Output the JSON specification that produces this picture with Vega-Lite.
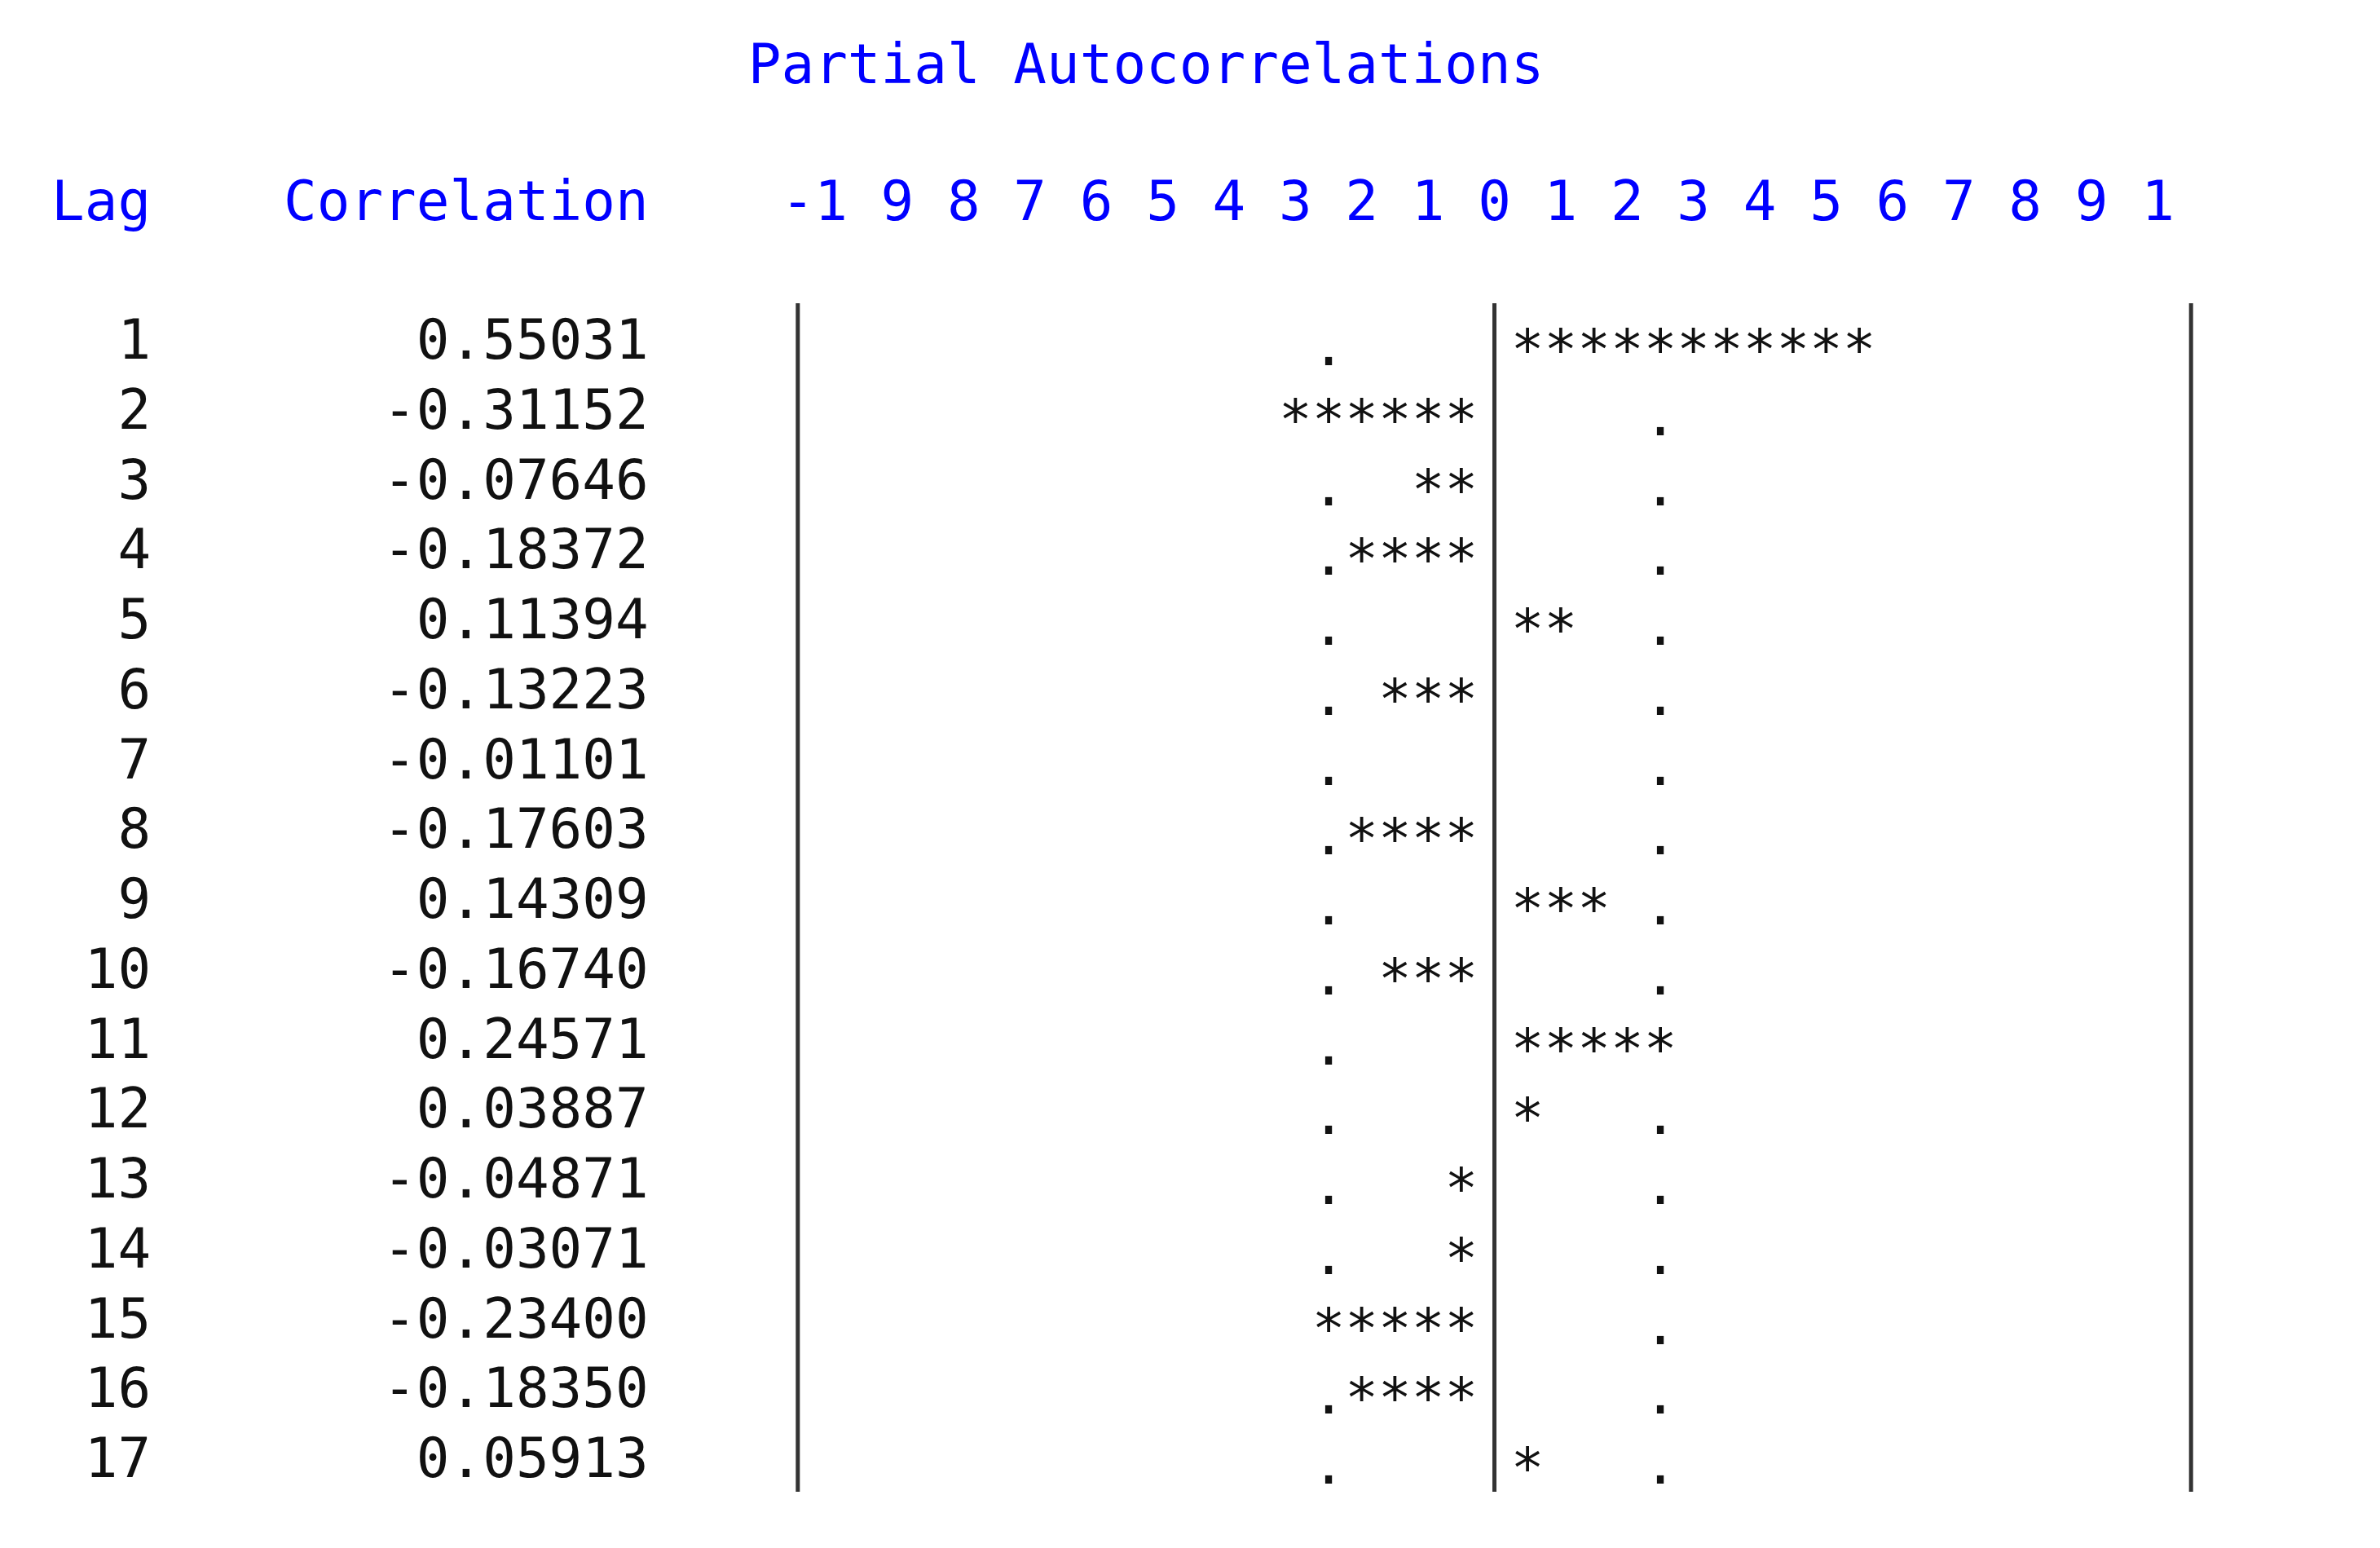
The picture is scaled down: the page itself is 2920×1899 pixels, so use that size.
{
  "$schema": "https://vega.github.io/schema/vega-lite/v6.json",
  "width": 2920,
  "height": 1899,
  "autosize": {"type": "none"},
  "padding": 0,
  "background": "white",
  "config": {
    "view": {"stroke": null},
    "locale": {"number": {"decimal": ".", "thousands": ",", "grouping": [3], "currency": ["$", ""], "minus": "-"}},
    "text": {"font": "DejaVu Sans Mono", "fontSize": 67.6, "color": "#111111"}
  },
  "datasets": {
    "pacf": [
      {"lag": 1, "corr": 0.55031, "stars": "***********"},
      {"lag": 2, "corr": -0.31152, "stars": "******"},
      {"lag": 3, "corr": -0.07646, "stars": "**"},
      {"lag": 4, "corr": -0.18372, "stars": "****"},
      {"lag": 5, "corr": 0.11394, "stars": "**"},
      {"lag": 6, "corr": -0.13223, "stars": "***"},
      {"lag": 7, "corr": -0.01101, "stars": ""},
      {"lag": 8, "corr": -0.17603, "stars": "****"},
      {"lag": 9, "corr": 0.14309, "stars": "***"},
      {"lag": 10, "corr": -0.16740, "stars": "***"},
      {"lag": 11, "corr": 0.24571, "stars": "*****"},
      {"lag": 12, "corr": 0.03887, "stars": "*"},
      {"lag": 13, "corr": -0.04871, "stars": "*"},
      {"lag": 14, "corr": -0.03071, "stars": "*"},
      {"lag": 15, "corr": -0.23400, "stars": "*****"},
      {"lag": 16, "corr": -0.18350, "stars": "****"},
      {"lag": 17, "corr": 0.05913, "stars": "*"}
    ],
    "limits": [
      {"lag": 1, "limit": -0.25},
      {"lag": 2, "limit": 0.25},
      {"lag": 3, "limit": -0.25}, {"lag": 3, "limit": 0.25},
      {"lag": 4, "limit": -0.25}, {"lag": 4, "limit": 0.25},
      {"lag": 5, "limit": -0.25}, {"lag": 5, "limit": 0.25},
      {"lag": 6, "limit": -0.25}, {"lag": 6, "limit": 0.25},
      {"lag": 7, "limit": -0.25}, {"lag": 7, "limit": 0.25},
      {"lag": 8, "limit": -0.25}, {"lag": 8, "limit": 0.25},
      {"lag": 9, "limit": -0.25}, {"lag": 9, "limit": 0.25},
      {"lag": 10, "limit": -0.25}, {"lag": 10, "limit": 0.25},
      {"lag": 11, "limit": -0.25},
      {"lag": 12, "limit": -0.25}, {"lag": 12, "limit": 0.25},
      {"lag": 13, "limit": -0.25}, {"lag": 13, "limit": 0.25},
      {"lag": 14, "limit": -0.25}, {"lag": 14, "limit": 0.25},
      {"lag": 15, "limit": 0.25},
      {"lag": 16, "limit": -0.25}, {"lag": 16, "limit": 0.25},
      {"lag": 17, "limit": -0.25}, {"lag": 17, "limit": 0.25}
    ],
    "scaleLabels": [
      {"v": -1.0, "label": "-1"}, {"v": -0.9, "label": "9"}, {"v": -0.8, "label": "8"},
      {"v": -0.7, "label": "7"}, {"v": -0.6, "label": "6"}, {"v": -0.5, "label": "5"},
      {"v": -0.4, "label": "4"}, {"v": -0.3, "label": "3"}, {"v": -0.2, "label": "2"},
      {"v": -0.1, "label": "1"}, {"v": 0.0, "label": "0"}, {"v": 0.1, "label": "1"},
      {"v": 0.2, "label": "2"}, {"v": 0.3, "label": "3"}, {"v": 0.4, "label": "4"},
      {"v": 0.5, "label": "5"}, {"v": 0.6, "label": "6"}, {"v": 0.7, "label": "7"},
      {"v": 0.8, "label": "8"}, {"v": 0.9, "label": "9"}, {"v": 1.0, "label": "1"}
    ]
  },
  "layer": [
    {
      "data": {"values": [{"t": "Partial Autocorrelations"}]},
      "mark": {"type": "text", "align": "left", "baseline": "middle", "dy": 4, "color": "#0000ff"},
      "encoding": {
        "x": {"datum": -1.125, "type": "quantitative", "scale": {"domain": [-2.2525, 1.3348]}, "axis": null},
        "y": {"datum": -3, "type": "quantitative", "scale": {"domain": [-3.9096, 18.236], "reverse": true}, "axis": null},
        "text": {"field": "t"}
      }
    },
    {
      "data": {"values": [{"h": "Lag"}]},
      "mark": {"type": "text", "align": "right", "baseline": "middle", "dy": 0, "color": "#0000ff"},
      "encoding": {
        "x": {"datum": -2.025, "type": "quantitative", "scale": {"domain": [-2.2525, 1.3348]}, "axis": null},
        "y": {"datum": -1, "type": "quantitative", "scale": {"domain": [-3.9096, 18.236], "reverse": true}, "axis": null},
        "text": {"field": "h"}
      }
    },
    {
      "data": {"values": [{"h": "Correlation"}]},
      "mark": {"type": "text", "align": "right", "baseline": "middle", "dy": 0, "color": "#0000ff"},
      "encoding": {
        "x": {"datum": -1.275, "type": "quantitative", "scale": {"domain": [-2.2525, 1.3348]}, "axis": null},
        "y": {"datum": -1, "type": "quantitative", "scale": {"domain": [-3.9096, 18.236], "reverse": true}, "axis": null},
        "text": {"field": "h"}
      }
    },
    {
      "data": {"name": "scaleLabels"},
      "mark": {"type": "text", "align": "right", "baseline": "middle", "dy": 0, "dx": 20.35, "color": "#0000ff"},
      "encoding": {
        "x": {"field": "v", "type": "quantitative", "scale": {"domain": [-2.2525, 1.3348]}, "axis": null},
        "y": {"datum": -1, "type": "quantitative", "scale": {"domain": [-3.9096, 18.236], "reverse": true}, "axis": null},
        "text": {"field": "label"}
      }
    },
    {
      "data": {"values": [{"edge": "left"}]},
      "mark": {"type": "rule", "strokeWidth": 5, "color": "#333333"},
      "encoding": {
        "x": {"datum": -1.05, "type": "quantitative", "scale": {"domain": [-2.2525, 1.3348]}, "axis": null},
        "y": {"datum": 0.43, "type": "quantitative", "scale": {"domain": [-3.9096, 18.236], "reverse": true}, "axis": null},
        "y2": {"datum": 17.43}
      }
    },
    {
      "data": {"values": [{"edge": "zero"}]},
      "mark": {"type": "rule", "strokeWidth": 5, "color": "#333333"},
      "encoding": {
        "x": {"datum": 0, "type": "quantitative", "scale": {"domain": [-2.2525, 1.3348]}, "axis": null},
        "y": {"datum": 0.43, "type": "quantitative", "scale": {"domain": [-3.9096, 18.236], "reverse": true}, "axis": null},
        "y2": {"datum": 17.43}
      }
    },
    {
      "data": {"values": [{"edge": "right"}]},
      "mark": {"type": "rule", "strokeWidth": 5, "color": "#333333"},
      "encoding": {
        "x": {"datum": 1.05, "type": "quantitative", "scale": {"domain": [-2.2525, 1.3348]}, "axis": null},
        "y": {"datum": 0.43, "type": "quantitative", "scale": {"domain": [-3.9096, 18.236], "reverse": true}, "axis": null},
        "y2": {"datum": 17.43}
      }
    },
    {
      "data": {"name": "pacf"},
      "mark": {"type": "text", "align": "right", "baseline": "middle", "dy": -1},
      "encoding": {
        "x": {"datum": -2.025, "type": "quantitative", "scale": {"domain": [-2.2525, 1.3348]}, "axis": null},
        "y": {"field": "lag", "type": "quantitative", "scale": {"domain": [-3.9096, 18.236], "reverse": true}, "axis": null},
        "text": {"field": "lag", "type": "quantitative", "format": "d"}
      }
    },
    {
      "data": {"name": "pacf"},
      "mark": {"type": "text", "align": "right", "baseline": "middle", "dy": -1},
      "encoding": {
        "x": {"datum": -1.275, "type": "quantitative", "scale": {"domain": [-2.2525, 1.3348]}, "axis": null},
        "y": {"field": "lag", "type": "quantitative", "scale": {"domain": [-3.9096, 18.236], "reverse": true}, "axis": null},
        "text": {"field": "corr", "type": "quantitative", "format": ".5f"}
      }
    },
    {
      "data": {"name": "pacf"},
      "transform": [{"filter": "datum.corr > 0"}],
      "mark": {"type": "text", "align": "left", "baseline": "middle", "dx": 20.35, "dy": 11},
      "encoding": {
        "x": {"datum": 0, "type": "quantitative", "scale": {"domain": [-2.2525, 1.3348]}, "axis": null},
        "y": {"field": "lag", "type": "quantitative", "scale": {"domain": [-3.9096, 18.236], "reverse": true}, "axis": null},
        "text": {"field": "stars"}
      }
    },
    {
      "data": {"name": "pacf"},
      "transform": [{"filter": "datum.corr < 0"}],
      "mark": {"type": "text", "align": "right", "baseline": "middle", "dx": -20.35, "dy": 11},
      "encoding": {
        "x": {"datum": 0, "type": "quantitative", "scale": {"domain": [-2.2525, 1.3348]}, "axis": null},
        "y": {"field": "lag", "type": "quantitative", "scale": {"domain": [-3.9096, 18.236], "reverse": true}, "axis": null},
        "text": {"field": "stars"}
      }
    },
    {
      "data": {"name": "limits"},
      "mark": {"type": "text", "align": "center", "baseline": "middle", "dy": 7},
      "encoding": {
        "x": {"field": "limit", "type": "quantitative", "scale": {"domain": [-2.2525, 1.3348]}, "axis": null},
        "y": {"field": "lag", "type": "quantitative", "scale": {"domain": [-3.9096, 18.236], "reverse": true}, "axis": null},
        "text": {"value": "."}
      }
    }
  ]
}
